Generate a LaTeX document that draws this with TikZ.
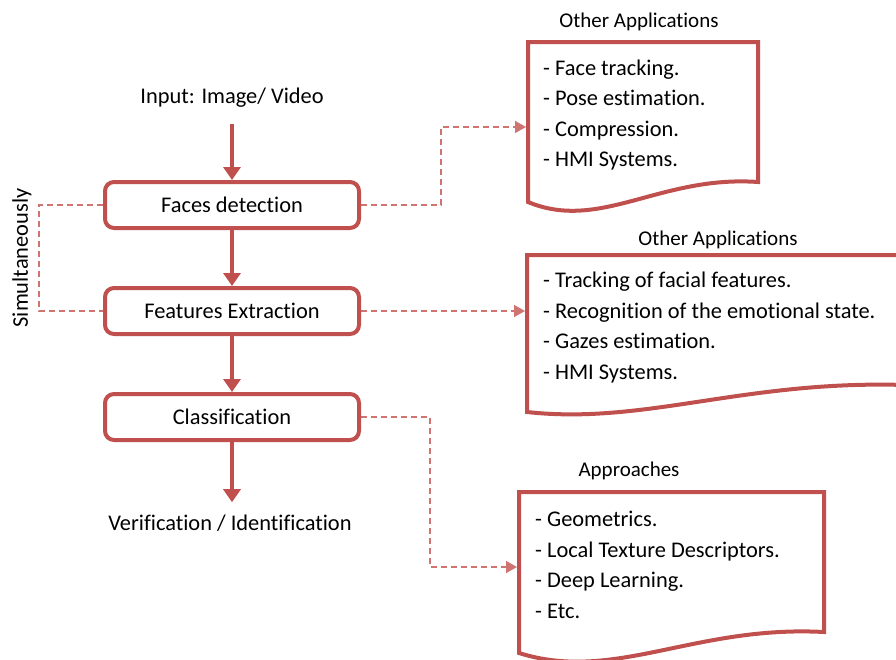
\documentclass[tikz,border=0pt]{standalone}
\usepackage{fontspec}
\setmainfont{Carlito}[Ligatures=NoCommon]
\usepackage{xcolor}
\usetikzlibrary{arrows.meta}

\definecolor{boxred}{HTML}{C0504D}
\definecolor{dashred}{HTML}{D07472}

\tikzset{
  stage/.style={draw=boxred, line width=4pt, rounded corners=9pt, fill=white,
    minimum width=254pt, minimum height=46pt, font=\fontsize{22.4}{26}\selectfont},
  flow/.style={draw=boxred, line width=4pt, -{Triangle[length=13pt,width=17pt]}},
  dashlink/.style={draw=dashred, line width=1.6pt, dash pattern=on 6pt off 4pt},
  linkarrow/.style={dashlink, -{Triangle[length=11pt,width=12pt]}},
  doc/.style={draw=boxred, line width=4pt, fill=white},
  plaintext/.style={font=\fontsize{22.4}{26}\selectfont},
  doctitle/.style={font=\fontsize{21}{25}\selectfont},
  items/.style={font=\fontsize{22.4}{30.5}\selectfont, align=left, inner sep=0pt, anchor=north west},
}

\begin{document}
\begin{tikzpicture}[x=1pt, y=-1pt]
    \clip (0,0) rectangle (896,659);

    % Main chain
    \node[plaintext] (input) at (232,98) {Input: Image/ Video};
    \node[stage] (faces) at (232,205) {Faces detection};
    \node[stage] (feat) at (232,311) {Features Extraction};
    \node[stage] (classif) at (232,417) {Classification};
    \node[plaintext] (output) at (230,523) {Verification / Identification};

    \draw[flow, shorten <=13pt] (input.south) -- (faces.north);
    \draw[flow] (faces) -- (feat);
    \draw[flow] (feat) -- (classif);
    \draw[flow, shorten >=9pt] (classif.south) -- (classif.south |- output.north);

    % Simultaneously
    \node[plaintext, rotate=90] (simul) at (22,258) {Simultaneously};
    \draw[dashlink] (faces.west) -- ++(-64,0) |- (feat.west);

    % Other Applications (faces)
    \node[doctitle] (titleA) at (639,22) {Other Applications};
    \draw[doc] (528,42) -- (758,42) -- (758,182)
        .. controls (660,175) and (600,232) .. (528,202) -- cycle;
    \node[items] (appsA) at (543,59.5) {- Face tracking.\\- Pose estimation.\\- Compression.\\- HMI Systems.};
    \coordinate (docA) at (526,127);
    \draw[linkarrow] (faces.east) -- ++(80,0) |- (docA);

    % Other Applications (features)
    \node[doctitle] (titleB) at (718,240) {Other Applications};
    \draw[doc] (527,255) -- (905,255) -- (905,385)
        .. controls (744,380) and (645,425) .. (527,412) -- cycle;
    \node[items] (appsB) at (543,272) {- Tracking of facial features.\\- Recognition of the emotional state.\\- Gazes estimation.\\- HMI Systems.};
    \coordinate (docB) at (525,311);
    \draw[linkarrow] (feat.east) -- (docB);

    % Approaches
    \node[doctitle] (titleC) at (629,471) {Approaches};
    \draw[doc] (519,492) -- (824,492) -- (824,632)
        .. controls (694,625) and (614,683) .. (519,653) -- cycle;
    \node[items] (approaches) at (535,511) {- Geometrics.\\- Local Texture Descriptors.\\- Deep Learning.\\- Etc.};
    \coordinate (docC) at (517,567);
    \draw[linkarrow] (classif.east) -- ++(69,0) |- (docC);

\end{tikzpicture}
\end{document}
